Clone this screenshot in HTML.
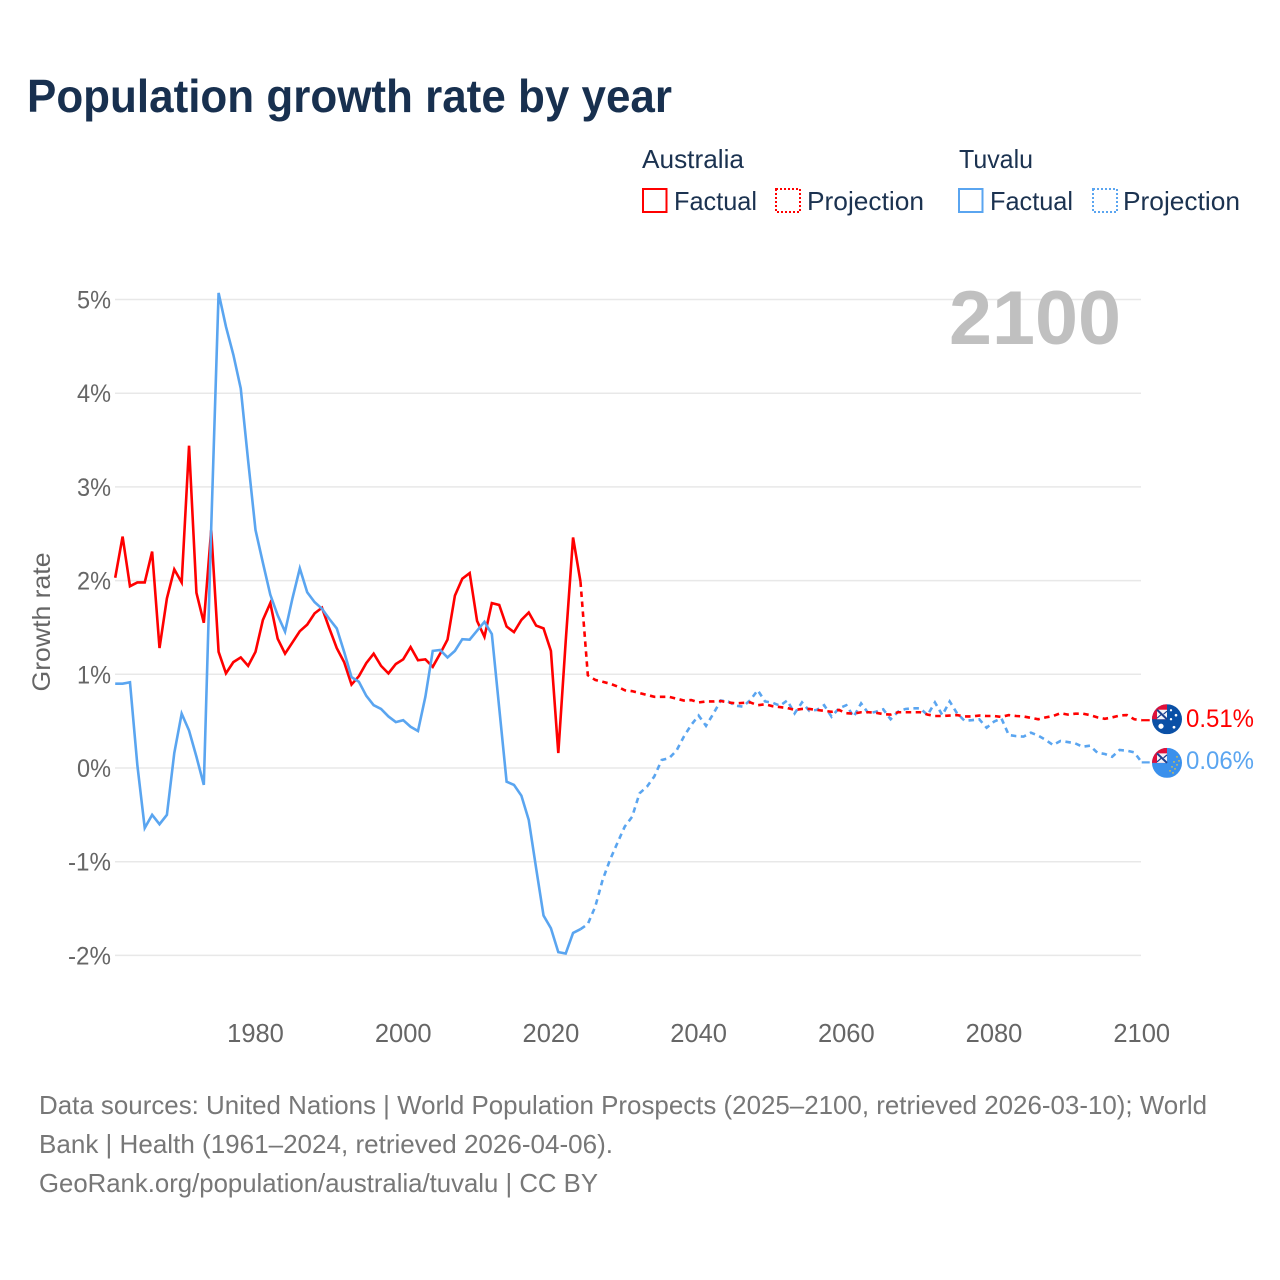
<!DOCTYPE html>
<html lang="en">
<head>
<meta charset="utf-8">
<title>Population growth rate by year</title>
<style>
html,body{margin:0;padding:0;background:#fff;width:1280px;height:1280px;overflow:hidden}
svg{display:block}
text{font-family:"Liberation Sans",Arial,sans-serif}
</style>
</head>
<body>
<svg id="chart" width="1280" height="1280" viewBox="0 0 1280 1280" xmlns="http://www.w3.org/2000/svg">
  <defs>
    <clipPath id="flag-clip"><circle cx="0" cy="0" r="15"/></clipPath>
  </defs>
  <text x="27" y="112" font-size="46" font-weight="700" fill="#18304f" textLength="645" lengthAdjust="spacingAndGlyphs">Population growth rate by year</text>

  <g font-size="26" fill="#1b3250">
    <text x="642" y="168" textLength="102" lengthAdjust="spacingAndGlyphs">Australia</text>
    <text x="959" y="168" textLength="74" lengthAdjust="spacingAndGlyphs">Tuvalu</text>
    <rect x="643" y="189" width="23.5" height="23" fill="none" stroke="#ff0000" stroke-width="2"/>
    <text x="674" y="210" textLength="83" lengthAdjust="spacingAndGlyphs">Factual</text>
    <rect x="776" y="189" width="24" height="23" fill="none" stroke="#ff0000" stroke-width="2" stroke-dasharray="2 2"/>
    <text x="807" y="210" textLength="117" lengthAdjust="spacingAndGlyphs">Projection</text>
    <rect x="959" y="189" width="23.5" height="23" fill="none" stroke="#5aa5f0" stroke-width="2"/>
    <text x="990" y="210" textLength="83" lengthAdjust="spacingAndGlyphs">Factual</text>
    <rect x="1093" y="189" width="24" height="23" fill="none" stroke="#5aa5f0" stroke-width="2" stroke-dasharray="2 2"/>
    <text x="1123" y="210" textLength="117" lengthAdjust="spacingAndGlyphs">Projection</text>
  </g>

  <g id="grid"></g>
  <g id="y-ticks"></g>
  <g id="x-ticks"></g>

  <text x="0" y="0" transform="translate(50 622) rotate(-90)" text-anchor="middle" font-size="25" fill="#666666" textLength="139" lengthAdjust="spacingAndGlyphs">Growth rate</text>

  <text x="1121" y="344" text-anchor="end" font-size="76" font-weight="700" fill="#c0c0c0" textLength="172" lengthAdjust="spacingAndGlyphs">2100</text>

  <g id="series"></g>

  <g id="flag-australia">
    <g clip-path="url(#flag-clip)">
      <rect x="-15" y="-15" width="30" height="30" fill="#0a50a6"/>
      <rect x="-15" y="-15" width="15" height="15" fill="#e0103a"/>
      <rect x="-10" y="-9.5" width="10" height="9.5" fill="#f4f4f8"/>
      <path d="M-10 -9.5L0 0" stroke="#1d3f8f" stroke-width="2"/>
      <path d="M-10 -1L-6 -4.5M0 -8L-3.5 -5" stroke="#1d3f8f" stroke-width="1.2"/>
      <circle cx="-6" cy="7" r="2.6" fill="#fff"/>
      <circle cx="4" cy="0" r="1.2" fill="#fff"/>
      <circle cx="9" cy="-4" r="1.3" fill="#fff"/>
      <circle cx="4" cy="-9" r="1.1" fill="#fff"/>
      <circle cx="7" cy="8" r="1.4" fill="#fff"/>
    </g>
  </g>
  <g id="flag-tuvalu">
    <g clip-path="url(#flag-clip)">
      <rect x="-15" y="-15" width="30" height="30" fill="#3a90ec"/>
      <rect x="-15" y="-15" width="15" height="15" fill="#e0103a"/>
      <rect x="-10" y="-9.5" width="10" height="9.5" fill="#f4f4f8"/>
      <path d="M-10 -9.5L0 0" stroke="#1d3f8f" stroke-width="2"/>
      <path d="M-10 -1L-6 -4.5M0 -8L-3.5 -5" stroke="#1d3f8f" stroke-width="1.2"/>
      <g fill="#d8c04a">
        <circle cx="10" cy="-6" r="0.9"/><circle cx="12" cy="-2" r="0.9"/><circle cx="7" cy="-1" r="0.9"/>
        <circle cx="10" cy="2" r="0.9"/><circle cx="5" cy="4" r="0.9"/><circle cx="8" cy="6" r="0.9"/>
        <circle cx="3" cy="8" r="0.9"/><circle cx="6" cy="10" r="0.9"/>
      </g>
    </g>
  </g>
  <text id="value-australia" x="1186" font-size="25" fill="#ff0000" textLength="68" lengthAdjust="spacingAndGlyphs">0.51%</text>
  <text id="value-tuvalu" x="1186" font-size="25" fill="#5aa5f0" textLength="68" lengthAdjust="spacingAndGlyphs">0.06%</text>

  <g font-size="26" fill="#777777">
    <text x="39" y="1114" textLength="1168" lengthAdjust="spacingAndGlyphs">Data sources: United Nations | World Population Prospects (2025–2100, retrieved 2026-03-10); World</text>
    <text x="39" y="1153" textLength="574" lengthAdjust="spacingAndGlyphs">Bank | Health (1961–2024, retrieved 2026-04-06).</text>
    <text x="39" y="1192" textLength="559" lengthAdjust="spacingAndGlyphs">GeoRank.org/population/australia/tuvalu | CC BY</text>
  </g>
</svg>
<script>
const firstYear = 1961;
const projectionStartYear = 2024;
const yTickValues = [5, 4, 3, 2, 1, 0, -1, -2];
const xTickYears = [1980, 2000, 2020, 2040, 2060, 2080, 2100];

const australiaFactual = [2.03,2.47,1.94,1.98,1.98,2.31,1.28,1.81,2.12,1.98,3.44,1.87,1.55,2.54,1.24,1.01,1.13,1.18,1.09,1.24,1.58,1.76,1.38,1.22,1.34,1.46,1.53,1.65,1.71,1.49,1.28,1.13,0.89,0.98,1.12,1.22,1.09,1.01,1.11,1.16,1.29,1.15,1.16,1.08,1.22,1.37,1.84,2.02,2.08,1.57,1.40,1.76,1.74,1.51,1.45,1.58,1.66,1.52,1.49,1.25,0.16,1.35,2.46,1.99];

const australiaProjection = [1.99,0.99,0.94,0.92,0.90,0.87,0.83,0.82,0.80,0.78,0.76,0.76,0.76,0.74,0.72,0.725,0.70,0.71,0.71,0.715,0.70,0.69,0.695,0.70,0.67,0.68,0.66,0.65,0.64,0.62,0.63,0.63,0.62,0.61,0.60,0.62,0.585,0.58,0.595,0.595,0.59,0.575,0.57,0.595,0.595,0.595,0.595,0.57,0.555,0.555,0.56,0.565,0.55,0.55,0.56,0.555,0.555,0.545,0.565,0.555,0.55,0.535,0.52,0.54,0.555,0.585,0.57,0.58,0.58,0.565,0.54,0.525,0.54,0.56,0.565,0.52,0.51];

const tuvaluFactual = [0.90,0.90,0.915,0.03,-0.64,-0.50,-0.60,-0.50,0.16,0.58,0.40,0.12,-0.18,2.56,5.07,4.71,4.41,4.05,3.28,2.54,2.19,1.85,1.63,1.455,1.81,2.13,1.875,1.77,1.70,1.59,1.49,1.24,0.97,0.92,0.77,0.67,0.63,0.55,0.49,0.51,0.44,0.395,0.76,1.25,1.26,1.18,1.25,1.375,1.37,1.465,1.56,1.43,0.64,-0.146,-0.18,-0.295,-0.555,-1.07,-1.575,-1.71,-1.965,-1.98,-1.76,-1.72];

const tuvaluProjection = [-1.72,-1.665,-1.48,-1.195,-0.98,-0.80,-0.625,-0.52,-0.27,-0.20,-0.09,0.085,0.105,0.185,0.335,0.46,0.56,0.45,0.58,0.72,0.71,0.665,0.655,0.725,0.83,0.71,0.697,0.665,0.72,0.583,0.70,0.61,0.62,0.67,0.547,0.637,0.67,0.547,0.69,0.583,0.60,0.626,0.52,0.60,0.63,0.637,0.637,0.565,0.70,0.565,0.71,0.583,0.505,0.51,0.52,0.43,0.495,0.53,0.352,0.34,0.335,0.377,0.345,0.30,0.245,0.288,0.277,0.263,0.227,0.238,0.163,0.15,0.12,0.192,0.185,0.167,0.06];

const SVGNS = 'http://www.w3.org/2000/svg';
function xScale(year) { return 115.2 + (year - firstYear) * 7.385; }
function yScale(value) { return 768 - value * 93.7; }
function make(tag, attrs) {
  const el = document.createElementNS(SVGNS, tag);
  for (const k in attrs) el.setAttribute(k, attrs[k]);
  return el;
}
function pathFrom(values, startYear) {
  return values.map(function (v, i) {
    return (i ? 'L' : 'M') + xScale(startYear + i).toFixed(2) + ' ' + yScale(v).toFixed(2);
  }).join('');
}

const gridGroup = document.getElementById('grid');
const yTickGroup = document.getElementById('y-ticks');
yTickValues.forEach(function (v) {
  const line = make('line', {x1: 115, x2: 1141, y1: yScale(v), y2: yScale(v), stroke: '#e8e8e8', 'stroke-width': 1.5});
  
  
  gridGroup.appendChild(line);
  const label = make('text', {x: 111, y: yScale(v) + 9, 'text-anchor': 'end', 'font-size': 25, fill: '#666666', textLength: v < 0 ? 43 : 34, lengthAdjust: 'spacingAndGlyphs'});
  
  
  label.textContent = v + '%';
  yTickGroup.appendChild(label);
});

const xTickGroup = document.getElementById('x-ticks');
xTickYears.forEach(function (year) {
  const label = make('text', {x: xScale(year), y: 1042, 'text-anchor': 'middle', 'font-size': 25.5, fill: '#666666'});
  
  
  label.textContent = year;
  xTickGroup.appendChild(label);
});

const seriesGroup = document.getElementById('series');
function drawLine(values, startYear, color, dashed, name) {
  const p = make('path', {d: pathFrom(values, startYear), fill: 'none', stroke: color, 'stroke-width': 2.6, 'stroke-linejoin': 'miter'});
  if (dashed) p.setAttribute('stroke-dasharray', '5.5 4.5');
  
  
  seriesGroup.appendChild(p);
}
function drawConnector(lastValue, color, name) {
  const c = make('line', {x1: xScale(2100), x2: xScale(2100) + 8, y1: yScale(lastValue), y2: yScale(lastValue), stroke: color, 'stroke-width': 2.2});
  
  
  seriesGroup.appendChild(c);
}
drawLine(australiaFactual, firstYear, '#ff0000', false, 'australia-factual-line');
drawLine(tuvaluFactual, firstYear, '#5aa5f0', false, 'tuvalu-factual-line');
drawLine(tuvaluProjection, projectionStartYear, '#5aa5f0', true, 'tuvalu-projection-line');
drawLine(australiaProjection, projectionStartYear, '#ff0000', true, 'australia-projection-line');
const australiaLast = australiaProjection[australiaProjection.length - 1];
const tuvaluLast = tuvaluProjection[tuvaluProjection.length - 1];
drawConnector(australiaLast, '#ff0000', 'australia-end-connector');
drawConnector(tuvaluLast, '#5aa5f0', 'tuvalu-end-connector');

document.getElementById('flag-australia').setAttribute('transform', 'translate(1167 ' + (yScale(australiaLast) - 1) + ')');
document.getElementById('flag-tuvalu').setAttribute('transform', 'translate(1167 ' + (yScale(tuvaluLast) + 0.5) + ')');
document.getElementById('value-australia').setAttribute('y', yScale(australiaLast) + 7);
document.getElementById('value-tuvalu').setAttribute('y', yScale(tuvaluLast) + 6.5);
</script>
</body>
</html>
